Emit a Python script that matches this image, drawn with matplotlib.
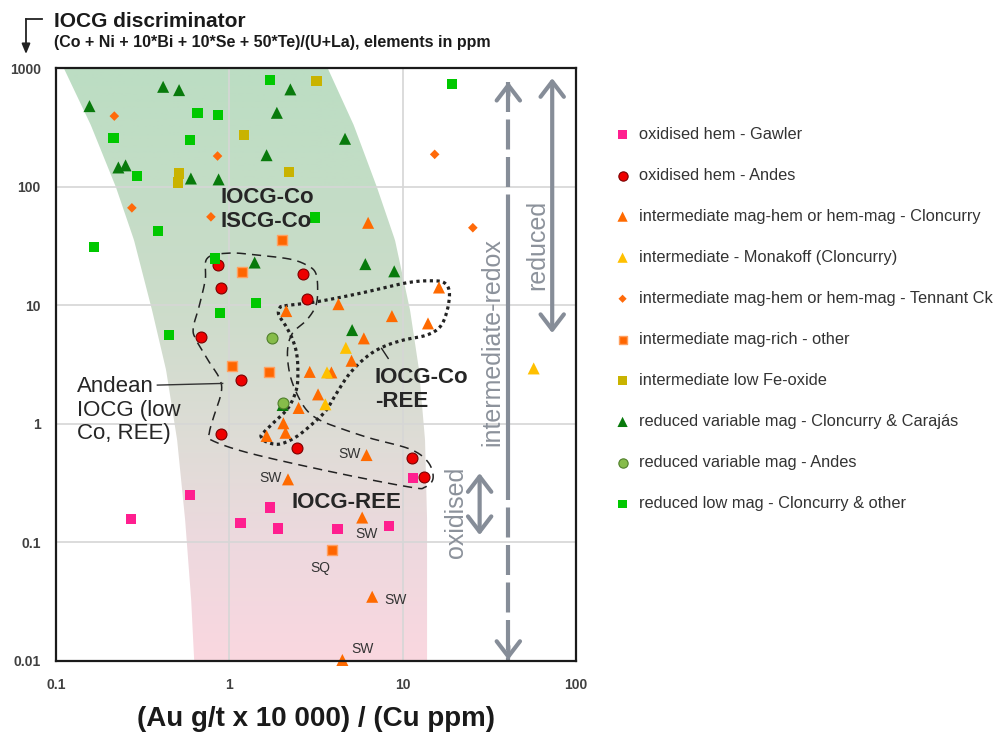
import numpy as np
import matplotlib
matplotlib.use('Agg')
import matplotlib.pyplot as plt
from matplotlib.patches import Polygon
from matplotlib.lines import Line2D
from matplotlib.colors import to_rgb

plt.rcParams['font.family'] = ['Liberation Sans', 'DejaVu Sans']

# ---------------- data ----------------
gawler_x = [11.5, 0.594, 0.27, 1.72, 1.16, 1.90, 4.2, 8.37]
gawler_y = [0.347, 0.25, 0.157, 0.197, 0.146, 0.131, 0.129, 0.138]

andes_ox_x = [0.855, 2.66, 0.90, 2.82, 0.686, 1.17, 0.895, 2.46, 11.35, 13.2]
andes_ox_y = [21.8, 18.5, 14.0, 11.2, 5.38, 2.34, 0.814, 0.62, 0.514, 0.357]

cloncurry_x = [6.32, 16.2, 4.26, 2.13, 8.67, 14.0, 5.97, 5.07, 2.91, 3.88,
               3.25, 2.51, 2.05, 2.11, 1.64, 6.19, 2.18, 5.84, 6.67, 4.49]
cloncurry_y = [49.5, 14.1, 10.2, 8.92, 8.09, 7.02, 5.25, 3.40, 2.74, 2.71,
               1.77, 1.36, 1.01, 0.84, 0.79, 0.545, 0.34, 0.162, 0.0348, 0.0102]

monakoff_x = [3.66, 3.58, 4.70, 57.0]
monakoff_y = [2.71, 1.46, 4.37, 2.93]

tennant_x = [0.217, 0.855, 0.274, 0.783, 15.3, 25.4]
tennant_y = [393, 181, 66.2, 55.6, 187, 45]

magrich_x = [2.0, 1.19, 1.03, 1.69, 3.90]
magrich_y = [35.4, 18.9, 3.07, 2.71, 0.0861]

lowfe_x = [3.18, 1.22, 2.20, 0.513, 0.505]
lowfe_y = [780, 272, 132, 129, 108]

redvar_x = [0.156, 0.415, 0.513, 2.25, 1.88, 1.64, 0.229, 0.252, 0.600, 0.867,
            4.65, 1.40, 6.09, 8.94, 5.11, 2.03]
redvar_y = [477, 694, 651, 660, 419, 184, 145, 151, 117, 115,
            253, 22.9, 22.2, 19.3, 6.17, 1.44]

andes_red_x = [1.76, 2.04]
andes_red_y = [5.31, 1.50]

lowmag_x = [1.72, 19.3, 0.655, 0.860, 0.215, 0.594, 0.292, 3.11, 0.386, 0.165,
            0.830, 1.43, 0.883, 0.449]
lowmag_y = [791, 731, 419, 401, 258, 247, 123, 55.0, 42.4, 31.1,
            24.8, 10.4, 8.63, 5.60]

legend_labels = [
    'oxidised hem - Gawler',
    'oxidised hem - Andes',
    'intermediate mag-hem or hem-mag - Cloncurry',
    'intermediate - Monakoff (Cloncurry)',
    'intermediate mag-hem or hem-mag - Tennant Ck',
    'intermediate mag-rich - other',
    'intermediate low Fe-oxide',
    'reduced variable mag - Cloncurry & Carajás',
    'reduced variable mag - Andes',
    'reduced low mag - Cloncurry & other',
]

x_ticks = [0.1, 1, 10, 100]
x_tick_labels = ['0.1', '1', '10', '100']
y_ticks = [0.01, 0.1, 1, 10, 100, 1000]
y_tick_labels = ['0.01', '0.1', '1', '10', '100', '1000']

# sample notes
note_text = ['SW', 'SW', 'SW', 'SQ', 'SW', 'SW']
note_x = [6.19, 2.18, 5.84, 3.90, 6.67, 4.49]
note_y = [0.545, 0.34, 0.162, 0.0861, 0.0348, 0.0102]

# field boundary (shaded band)
band_left_x = [0.1108, 0.1588, 0.2216, 0.2818, 0.3581, 0.4316, 0.4999, 0.5561, 0.6025, 0.6271]
band_left_y = [1000, 330, 99.0, 35.4, 9.09, 2.84, 0.729, 0.154, 0.0326, 0.01]
band_right_x = [3.69, 5.22, 7.10, 9.03, 11.03, 12.43, 13.46, 13.83, 13.83]
band_right_y = [1000, 330, 99.0, 35.4, 9.09, 2.84, 0.729, 0.154, 0.01]

# Andean outline
andean_x = [0.746, 1.0, 1.433, 2.226, 2.792, 3.148, 3.233, 3.148, 2.792, 2.316,
            2.167, 2.226, 2.443, 2.792, 3.32, 4.335, 6.467, 11.02, 14.02, 14.98,
            13.46, 11.02, 3.949, 1.305, 0.787, 0.766, 0.808, 0.899, 0.875, 0.766,
            0.644, 0.619, 0.670, 0.726]
andean_y = [24.9, 27.5, 26.5, 24.5, 21.8, 18.7, 13.4, 9.83, 7.49, 5.82,
            4.18, 2.68, 1.815, 1.305, 1.075, 0.920, 0.758, 0.612, 0.475, 0.348,
            0.2925, 0.2925, 0.3915, 0.566, 0.729, 0.835, 1.117, 1.85, 2.43, 3.31,
            5.08, 6.41, 9.83, 16.3]

# IOCG-Co-REE outline
coree_x = [2.083, 3.177, 5.656, 10.55, 15.04, 17.58, 18.62, 17.98, 16.44, 13.77,
           10.08, 7.72, 6.19, 4.953, 4.148, 3.63, 3.036, 2.433, 1.948, 1.631,
           1.526, 1.559, 1.781, 2.176, 2.433, 2.486, 2.453, 2.325, 2.130, 1.930, 1.948]
coree_y = [9.88, 10.68, 12.58, 15.45, 16.06, 15.27, 12.58, 8.80, 6.58, 5.60,
           5.08, 4.46, 3.67, 2.66, 1.804, 1.305, 1.008, 0.777, 0.674, 0.705,
           0.777, 0.830, 1.008, 1.349, 1.923, 2.66, 3.80, 5.08, 6.58, 8.25, 9.40]

# ---------------- figure ----------------
fig = plt.figure(figsize=(9.93, 7.33), dpi=100)
ax = fig.add_axes([56 / 993, 1 - 661 / 733, (576 - 56) / 993, (661 - 68) / 733])
ax.set_xscale('log')
ax.set_yscale('log')

# gradient band
stops_logy = [-2, -1, 0, 1, 2, 3]
stop_cols = ['#FAD7E0', '#EDD9DE', '#DCDDD5', '#CCDCCA', '#C3DDC6', '#BCDDC3']
f = np.linspace(0, 1, 500)
lyv = -2 + 5 * f
rgb = np.array([to_rgb(c) for c in stop_cols])
img = np.stack([np.interp(lyv, stops_logy, rgb[:, k]) for k in range(3)], axis=-1)[:, None, :]
im = ax.imshow(img, extent=(0, 1, 0, 1), transform=ax.transAxes, origin='lower',
               aspect='auto', zorder=0, interpolation='bilinear')


def dense_boundary(xs, ys, n=200):
    lx = np.log10(xs)
    ly = np.log10(ys)
    t = np.linspace(ly.max(), ly.min(), n)
    xi = np.interp(t, ly[::-1], lx[::-1])
    return 10 ** xi, 10 ** t


lbx, lby = dense_boundary(band_left_x, band_left_y)
rbx, rby = dense_boundary(band_right_x, band_right_y)
verts = np.vstack([np.column_stack([lbx, lby]), np.column_stack([rbx[::-1], rby[::-1]])])
clip_poly = Polygon(verts, closed=True, transform=ax.transData, facecolor='none', edgecolor='none')
im.set_clip_path(clip_poly)


def closed_spline(xs, ys, n=24):
    P = np.column_stack([np.log10(xs), np.log10(ys)])
    m = len(P)
    segs = []
    t = np.linspace(0, 1, n, endpoint=False)[:, None]
    for i in range(m):
        p0, p1, p2, p3 = P[i - 1], P[i], P[(i + 1) % m], P[(i + 2) % m]
        seg = 0.5 * ((2 * p1) + (-p0 + p2) * t + (2 * p0 - 5 * p1 + 4 * p2 - p3) * t ** 2
                     + (-p0 + 3 * p1 - 3 * p2 + p3) * t ** 3)
        segs.append(seg)
    out = np.vstack(segs + [segs[0][:1]])
    return 10 ** out[:, 0], 10 ** out[:, 1]


ax_, ay_ = closed_spline(andean_x, andean_y)
ax.plot(ax_, ay_, color='#222222', lw=1.1, dashes=(6, 4), zorder=3)
cx_, cy_ = closed_spline(coree_x, coree_y)
ax.plot(cx_, cy_, color='#222222', lw=2.3, linestyle=(0, (1, 1.1)), zorder=3)

# grid and axes
ax.set_xlim(0.1, 100)
ax.set_ylim(0.01, 1000)
ax.set_axisbelow(True)
ax.grid(True, which='major', color='#D6D6D6', lw=1.2)
ax.xaxis.set_minor_locator(matplotlib.ticker.NullLocator())
ax.yaxis.set_minor_locator(matplotlib.ticker.NullLocator())
ax.set_xticks(x_ticks)
ax.set_xticklabels(x_tick_labels)
ax.set_yticks(y_ticks)
ax.set_yticklabels(y_tick_labels)
ax.tick_params(axis='both', length=0, labelsize=10, labelcolor='#404040')
ax.tick_params(axis='x', pad=12)
ax.tick_params(axis='y', pad=11)
for lbl in ax.get_xticklabels() + ax.get_yticklabels():
    lbl.set_fontweight('bold')
for s in ax.spines.values():
    s.set_linewidth(1.6)
    s.set_color('#1a1a1a')
    s.set_zorder(6)

# markers
h = []
h.append(ax.scatter(gawler_x, gawler_y, marker='s', s=55, c='#FF1F8F', edgecolors='none', zorder=4))
h.append(ax.scatter(andes_ox_x, andes_ox_y, marker='o', s=62, c='#EE0000', edgecolors='#7A0000', linewidths=0.8, zorder=4))
h.append(ax.scatter(cloncurry_x, cloncurry_y, marker='^', s=75, c='#FF6A00', edgecolors='none', zorder=4, clip_on=False))
h.append(ax.scatter(monakoff_x, monakoff_y, marker='^', s=75, c='#FFC000', edgecolors='none', zorder=4))
h.append(ax.scatter(tennant_x, tennant_y, marker='D', s=24, c='#FF6A0A', edgecolors='none', zorder=4))
h.append(ax.scatter(magrich_x, magrich_y, marker='s', s=55, c='#FF6600', edgecolors='#FFA060', linewidths=1.0, zorder=4))
h.append(ax.scatter(lowfe_x, lowfe_y, marker='s', s=55, c='#C9B300', edgecolors='none', zorder=4))
h.append(ax.scatter(redvar_x, redvar_y, marker='^', s=75, c='#087A0C', edgecolors='none', zorder=4))
h.append(ax.scatter(andes_red_x, andes_red_y, marker='o', s=62, c='#86BC4A', edgecolors='#4F7F2A', linewidths=0.8, zorder=4))
h.append(ax.scatter(lowmag_x, lowmag_y, marker='s', s=55, c='#00C800', edgecolors='none', zorder=4))

# sample notes
note_off = [(-4.5, 0.5), (-4.5, 1.0), (3, -11.5), (-8.6, -12.7), (9, -2), (14.8, 7.7)]
note_ha = ['right', 'right', 'center', 'center', 'left', 'center']
for t, x, y, off, ha in zip(note_text, note_x, note_y, note_off, note_ha):
    ax.annotate(t, xy=(x, y), xytext=off, textcoords='offset points', ha=ha, va='center',
                fontsize=10, color='#333333', zorder=5, annotation_clip=False)

# field labels
ax.text(0.887, 64.4, 'IOCG-Co\nISCG-Co', fontsize=16, fontweight='bold', ha='left', va='center',
        linespacing=1.2, color='#262626', zorder=5)
ax.text(6.91, 1.954, 'IOCG-Co\n-REE', fontsize=16, fontweight='bold', ha='left', va='center',
        linespacing=1.2, color='#262626', zorder=5)
ax.text(4.74, 0.2175, 'IOCG-REE', fontsize=16, fontweight='bold', ha='center', va='center',
        color='#262626', zorder=5)
ax.text(0.1318, 1.305, 'Andean\nIOCG (low\nCo, REE)', fontsize=16, ha='left', va='center',
        linespacing=1.17, color='#262626', zorder=5)
ax.plot([0.3844, 0.915], [2.12, 2.19], color='#333333', lw=1.0, zorder=3)
ax.plot([7.56, 8.25], [4.32, 3.56], color='#222222', lw=1.0, zorder=3)

# redox arrows
acol = '#868D98'
aprops = dict(color=acol, lw=3, mutation_scale=20, shrinkA=0, shrinkB=0)


def tip_arrow(x, y_tip, direction):
    y_from = 10 ** (np.log10(y_tip) - direction * 14 / 118.6)
    ax.annotate('', xy=(x, y_tip), xytext=(x, y_from),
                arrowprops=dict(arrowstyle='->,head_length=0.55,head_width=0.42', **aprops), zorder=5)


xi = 40.7
ax.plot([xi, xi], [765, 55.6], color=acol, lw=3, dashes=(7.2, 1.8), solid_capstyle='butt',
        dash_capstyle='butt', zorder=5)
ax.plot([xi, xi], [55.6, 0.407], color=acol, lw=3, solid_capstyle='butt', zorder=5)
ax.plot([xi, xi], [0.407, 0.0102], color=acol, lw=3, dashes=(7.2, 1.8), dash_capstyle='butt', zorder=5)
tip_arrow(xi, 765, 1)
tip_arrow(xi, 0.0102, -1)

ax.annotate('', xy=(72.9, 822), xytext=(72.9, 5.82),
            arrowprops=dict(arrowstyle='<->,head_length=0.55,head_width=0.42', **aprops), zorder=5)
ax.annotate('', xy=(27.8, 0.384), xytext=(27.8, 0.1152),
            arrowprops=dict(arrowstyle='<->,head_length=0.55,head_width=0.42', **aprops), zorder=5)

tcol = '#8C929B'
ax.text(32.9, 4.92, 'intermediate-redox', rotation=90, ha='center', va='center', fontsize=18, color=tcol, zorder=5)
ax.text(59.9, 32.1, 'reduced', rotation=90, ha='center', va='center', fontsize=18, color=tcol, zorder=5)
ax.text(20.2, 0.179, 'oxidised', rotation=90, ha='center', va='center', fontsize=18, color=tcol, zorder=5)

# legend
leg = ax.legend(handles=h, labels=legend_labels, loc='upper left', bbox_to_anchor=(0.6187, 0.827),
                bbox_transform=fig.transFigure, frameon=False, fontsize=11.8, labelspacing=1.59,
                handlelength=1.0, handletextpad=0.5, borderpad=0, borderaxespad=0, markerscale=0.85)
for t in leg.get_texts():
    t.set_color('#333333')

# titles
fig.text(0.0539, 0.9636, 'IOCG discriminator', fontsize=15, fontweight='bold', va='baseline', color='#1a1a1a')
fig.text(0.0539, 0.9363, '(Co + Ni + 10*Bi + 10*Se + 50*Te)/(U+La), elements in ppm', fontsize=11.5,
         fontweight='bold', va='baseline', color='#1a1a1a')
fig.add_artist(Line2D([0.0420, 0.02618], [0.9741, 0.9741], transform=fig.transFigure, color='#222222', lw=1.3))
ax.annotate('', xy=(0.02618, 0.9263), xytext=(0.02618, 0.9741), xycoords='figure fraction',
            textcoords='figure fraction', annotation_clip=False,
            arrowprops=dict(arrowstyle='-|>,head_length=0.6,head_width=0.25', color='#222222', lw=1.3,
                            mutation_scale=10, shrinkA=0, shrinkB=0))

fig.text(0.318, 1 - 718.5 / 733, '(Au g/t x 10 000) / (Cu ppm)', fontsize=20, fontweight='bold',
         ha='center', va='center', color='#1a1a1a')

fig.savefig('out.png', dpi=100, facecolor='white')
